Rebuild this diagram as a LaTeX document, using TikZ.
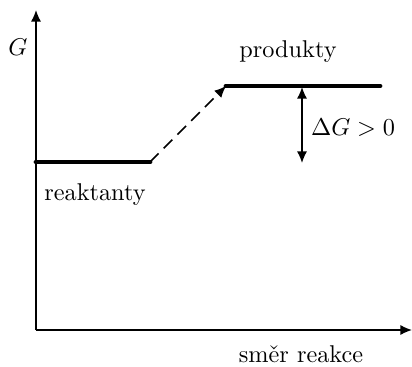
\documentclass[tikz,border=0pt]{standalone}
\usetikzlibrary{arrows.meta}
\begin{document}
\begin{tikzpicture}[x=0.412pt,y=-0.412pt,
  tip/.style={-{Latex[length=4.8pt,width=4.2pt]}},
  axis/.style={line width=0.6pt,tip},
  level/.style={line width=2pt,line cap=round},
  lbl/.style={inner sep=0pt,font=\normalsize}]
\useasboundingbox (0,0) rectangle (412,366);
\coordinate (O) at (36,330);
\coordinate (Ytop) at (36,10);
\coordinate (Xend) at (412,330);
\draw[axis] (O) -- (Ytop);
\draw[axis] (O) -- (Xend);
\coordinate (r1) at (36,162);
\coordinate (r2) at (150,162);
\coordinate (p1) at (226,86);
\coordinate (p2) at (380,86);
\draw[level] (r1) -- (r2);
\draw[level] (p1) -- (p2);
\draw[line width=0.6pt,dash pattern=on 5pt off 3pt,tip] (r2) -- (p1);
\coordinate (d1) at (302,87);
\coordinate (d2) at (302,163);
\draw[line width=0.6pt,{Latex[length=4.8pt,width=4.2pt]}-{Latex[length=4.8pt,width=4.2pt]}] (d1) -- (d2);
\node[lbl] (G) at (18,47) {$G$};
\node[lbl] (prod) at (288,52) {produkty};
\node[lbl] (dG) at (353,128) {$\Delta G>0$};
\node[lbl] (reak) at (95,195) {reaktanty};
\node[lbl] (smer) at (301,354) {směr reakce};
\end{tikzpicture}
\end{document}
